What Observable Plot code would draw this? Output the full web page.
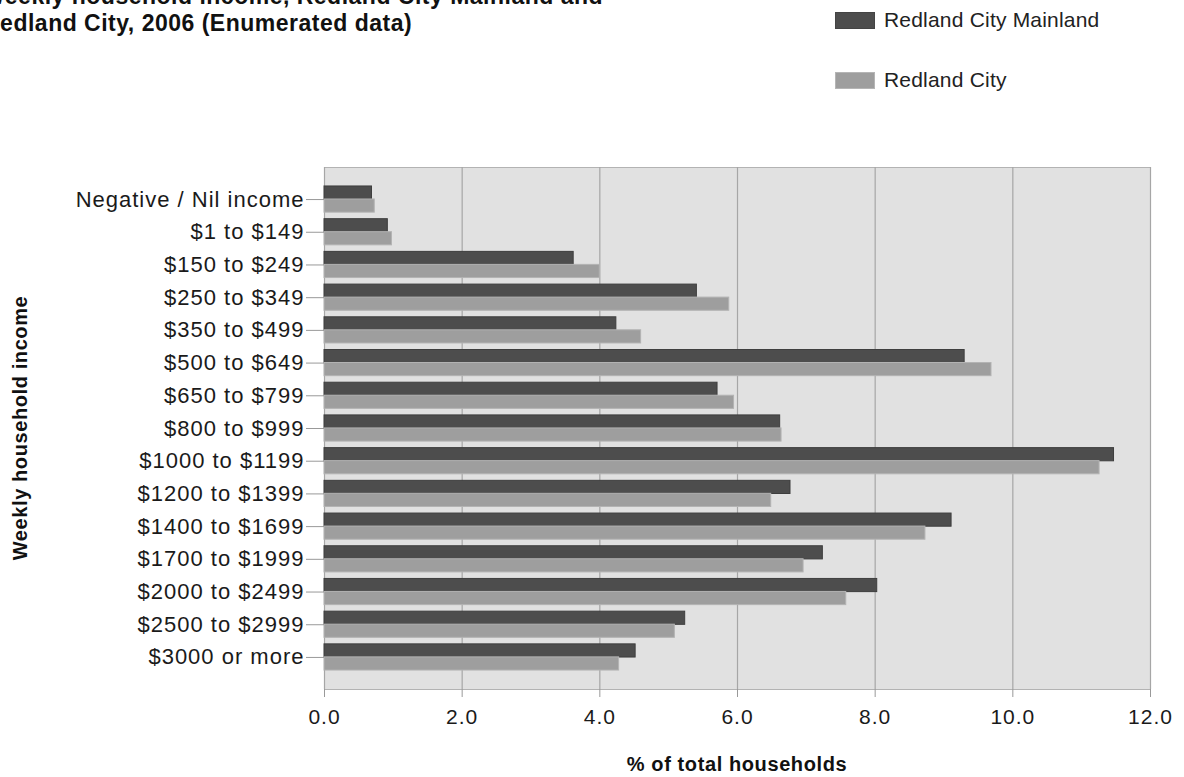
<!DOCTYPE html>
<html>
<head>
<meta charset="utf-8">
<script src="https://cdn.jsdelivr.net/npm/d3@7"></script>
<script src="https://cdn.jsdelivr.net/npm/@observablehq/plot@0.6"></script>
<style>
  html, body { margin: 0; padding: 0; background: #fff; overflow: hidden; }
  #wrap { position: relative; width: 1184px; height: 777px; font-family: "Liberation Sans", Arial, sans-serif; color: #111; }
  #title { position: absolute; left: -17px; top: -17px; font-weight: bold; font-size: 23px; letter-spacing: 0.5px; line-height: 27px; white-space: nowrap; }
  .leg { position: absolute; left: 835px; font-size: 21px; letter-spacing: 0.2px; display: flex; align-items: center; white-space: nowrap; color: #222; }
  .sw { width: 40px; height: 17px; margin-right: 9px; box-sizing: border-box; }
  #ylab { position: absolute; left: 20px; top: 428px; transform: translate(-50%, -50%) rotate(-90deg); font-weight: bold; font-size: 20px; letter-spacing: 0.6px; white-space: nowrap; }
  #xlab { position: absolute; left: 737px; top: 764px; transform: translate(-50%, -50%); font-weight: bold; font-size: 20px; letter-spacing: 0.6px; white-space: nowrap; }
  #chart { position: absolute; left: 0; top: 0; }
  #chart svg text { letter-spacing: 1px; }
</style>
</head>
<body>
<div id="wrap">
  <div id="chart"></div>
  <div id="title">Weekly household income, Redland City Mainland and<br>Redland City, 2006 (Enumerated data)</div>
  <div class="leg" style="top:8px"><div class="sw" style="background:#4d4d4d;border:1px solid #444"></div>Redland City Mainland</div>
  <div class="leg" style="top:68px"><div class="sw" style="background:#9e9e9e;border:1px solid #b5b5b5"></div>Redland City</div>
  <div id="ylab">Weekly household income</div>
  <div id="xlab">% of total households</div>
</div>
<script>
const categories = [
  "Negative / Nil income", "$1 to $149", "$150 to $249", "$250 to $349", "$350 to $499",
  "$500 to $649", "$650 to $799", "$800 to $999", "$1000 to $1199", "$1200 to $1399",
  "$1400 to $1699", "$1700 to $1999", "$2000 to $2499", "$2500 to $2999", "$3000 or more"
];
const mainland    = [0.69, 0.92, 3.62, 5.41, 4.24, 9.30, 5.71, 6.62, 11.47, 6.77, 9.11, 7.24, 8.03, 5.24, 4.52];
const redlandCity = [0.73, 0.98, 4.00, 5.88, 4.60, 9.69, 5.95, 6.64, 11.26, 6.49, 8.73, 6.96, 7.58, 5.09, 4.28];
const xTicks = [0, 2, 4, 6, 8, 10, 12];

const rows = categories.map((c, i) => ({category: c, mainland: mainland[i], city: redlandCity[i]}));

const chart = Plot.plot({
  width: 1184,
  height: 777,
  marginTop: 167,
  marginBottom: 88,
  marginLeft: 324,
  marginRight: 34,
  style: {fontFamily: "'Liberation Sans', Arial, sans-serif", color: "#1a1a1a", background: "transparent"},
  x: {domain: [0, 12]},
  y: {domain: categories, paddingInner: 0.2, paddingOuter: 0.58, round: false},
  marks: [
    Plot.frame({fill: "#e1e1e1", stroke: "#b3b3b3"}),
    Plot.gridX({ticks: xTicks, stroke: "#a6a6a6", strokeOpacity: 1, strokeWidth: 1.2}),
    Plot.barX(rows, {y: "category", x: "mainland", fill: "#4d4d4d", stroke: "#3e3e3e", strokeWidth: 1, insetBottom: 13}),
    Plot.barX(rows, {y: "category", x: "city", fill: "#9e9e9e", stroke: "#b3b3b3", strokeWidth: 1, insetTop: 13}),
    Plot.axisY({tickSize: 18, tickPadding: 2, fontSize: 22, label: null, stroke: "#999"}),
    Plot.axisX({ticks: xTicks, tickFormat: d3.format(".1f"), tickSize: 8, tickPadding: 12, fontSize: 21, label: null, stroke: "#999"})
  ]
});
document.getElementById("chart").appendChild(chart);
</script>
</body>
</html>
